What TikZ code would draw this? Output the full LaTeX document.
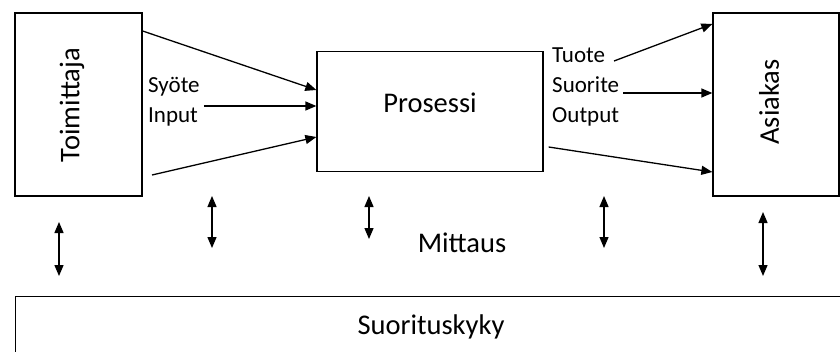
\documentclass[tikz,border=0pt]{standalone}
\usepackage{fontspec}
\setmainfont{Carlito}
\usepackage{tikz}
\usetikzlibrary{arrows.meta,positioning,calc}

\begin{document}
\begin{tikzpicture}[x=1pt, y=-1pt,
  box/.style={rectangle, draw=black, line width=1.3pt, inner sep=0pt},
  big/.style={font=\fontsize{28.5}{34}\selectfont},
  lab/.style={font=\fontsize{23}{30}\selectfont, align=left, inner sep=4pt},
  arr/.style={-{Triangle[length=11pt,width=9pt]}, line width=1.3pt},
  meas/.style={{Triangle[length=11pt,width=9pt]}-{Triangle[length=11pt,width=9pt]}, line width=1.3pt}]
\useasboundingbox (0,0) rectangle (840,351);
\clip (0,0) rectangle (840,351);
\node[box, minimum width=127pt, minimum height=183pt] (toim) at (78.5,104.5) {};
\node[box, minimum width=226pt, minimum height=120pt] (pros) at (430,111.5) {};
\node[box, minimum width=126pt, minimum height=183pt] (asi) at (776,104.5) {};
\node[box, minimum width=840pt, minimum height=90pt, anchor=north west] (suor) at (15,296) {};
\node[big, rotate=90] (toimtxt) at (72,105) {Toimittaja};
\node[big, rotate=90] (asitxt) at (769,102) {Asiakas};
\node[big] (prostxt) at ($(pros.center)+(0,-9)$) {Prosessi};
\node[big] (mitt) at (462,243) {Mittaus};
\node[big] (suortxt) at (431,327) {Suorituskyky};
\node[lab, anchor=west] (inp) at (144,102) {Syöte\\Input};
\node[lab, anchor=west] (outp) at (548,86.5) {Tuote\\Suorite\\Output};
\draw[arr] (toim.east |- 0,31) -- (pros.west |- 0,90);
\draw[arr] (inp.east |- 0,106) -- (pros.west |- 0,106);
\draw[arr] (152,175) -- (pros.west |- 0,137);
\draw[arr] (614,61) -- (asi.west |- 0,24);
\draw[arr] (outp.east |- 0,93) -- (asi.west |- 0,93);
\draw[arr] (pros.east |- 0,147) ++(5,0) -- (asi.west |- 0,172);
\foreach \i/\x/\ya/\yb in {1/59/222/276, 2/212/196/248, 3/369/196/239, 4/604/196/248, 5/763/212/276} {
  \coordinate (mt\i) at (\x,\ya);
  \coordinate (mb\i) at (\x,\yb);
  \draw[meas] (mt\i) -- (mb\i);
}
\end{tikzpicture}
\end{document}
